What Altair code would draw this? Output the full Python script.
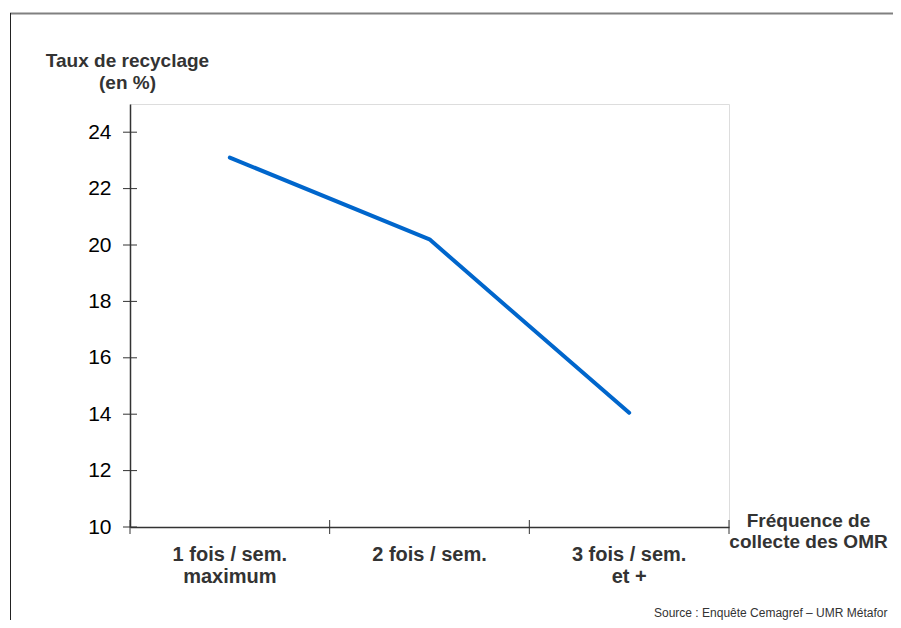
import altair as alt
import pandas as pd

categories = ["1 fois / sem.|maximum", "2 fois / sem.", "3 fois / sem.|et +"]
values = [23.1, 20.2, 14.05]
y_ticks = [10, 12, 14, 16, 18, 20, 22, 24]
y_title = ["Taux de recyclage", "(en %)"]
x_title = ["Fréquence de", "collecte des OMR"]
source = "Source : Enquête Cemagref – UMR Métafor"

W, H = 599, 423
FONT = "Liberation Sans"

df = pd.DataFrame({"cat": categories, "val": values})
df_ticks = pd.DataFrame({"t": y_ticks})
df_cat = pd.DataFrame({"cat": categories})
df_last = pd.DataFrame({"cat": categories[-1:]})
df_one = pd.DataFrame({"a": [0]})

xscale = alt.Scale(type="band", domain=categories, paddingInner=0, paddingOuter=0)
yscale = alt.Scale(domain=[10, 25], nice=False, zero=False)

line = alt.Chart(df).mark_line(color="#0066cc", strokeWidth=4, strokeCap="round", strokeJoin="round").encode(
    x=alt.X("cat:N", scale=xscale, sort=categories, bandPosition=0.5,
            axis=alt.Axis(title=x_title, labelExpr="split(datum.label, '|')", labelAngle=0,
                          labelFontSize=20, labelFontWeight="bold", labelColor="#333333",
                          labelLineHeight=22, labelPadding=17, labelFont=FONT,
                          ticks=False, grid=False, domainColor="#333333", domainWidth=1.5,
                          titleFont=FONT, titleFontSize=19, titleFontWeight="bold",
                          titleColor="#333333", titleX=678, titleY=-16, titleAlign="center",
                          titleBaseline="top", titleLineHeight=21, titleAnchor="start")),
    y=alt.Y("val:Q", scale=yscale,
            axis=alt.Axis(title=y_title, values=y_ticks, labelFontSize=21, labelColor="#000000",
                          labelFont=FONT, labelPadding=19, ticks=False, grid=False,
                          domainColor="#333333", domainWidth=1.5,
                          titleFont=FONT, titleFontSize=19, titleFontWeight="bold",
                          titleColor="#333333", titleAngle=0, titleX=-3, titleY=-53,
                          titleAlign="center", titleBaseline="top", titleLineHeight=22,
                          titleAnchor="start")),
)

ytick_rules = alt.Chart(df_ticks).mark_rule(color="#333333", strokeWidth=1).encode(
    y=alt.Y("t:Q", scale=yscale),
    x=alt.value(-7), x2=alt.value(7),
)

xtick_rules = alt.Chart(df_cat).mark_rule(color="#333333", strokeWidth=1).encode(
    x=alt.X("cat:N", scale=xscale, sort=categories, bandPosition=0),
    y=alt.value(H - 7), y2=alt.value(H + 7),
)

xtick_last = alt.Chart(df_last).mark_rule(color="#333333", strokeWidth=1).encode(
    x=alt.X("cat:N", scale=xscale, sort=categories, bandPosition=1),
    y=alt.value(H - 7), y2=alt.value(H + 7),
)

frame_top = alt.Chart(df_one).mark_rule(color="#808080", strokeWidth=2).encode(
    x=alt.value(-120), x2=alt.value(W + 200), y=alt.value(-90.5),
)
frame_left = alt.Chart(df_one).mark_rule(color="#222222", strokeWidth=1).encode(
    x=alt.value(-119.5), y=alt.value(-91), y2=alt.value(H + 200),
)

src = alt.Chart(df_one).mark_text(align="left", baseline="alphabetic", fontSize=12,
                                  font=FONT, color="#333333", clip=False).encode(
    x=alt.value(524), y=alt.value(513), text=alt.value(source),
)

chart = alt.layer(frame_top, frame_left, line, ytick_rules, xtick_rules, xtick_last, src).properties(
    width=W, height=H,
    autosize=alt.AutoSizeParams(type="none"),
    padding={"left": 122, "top": 96, "right": 164, "bottom": 93},
).configure_view(stroke="#999999", strokeWidth=1.5).configure(background="white")

chart.save("out.html", embed_options={"renderer": "svg", "actions": False})
